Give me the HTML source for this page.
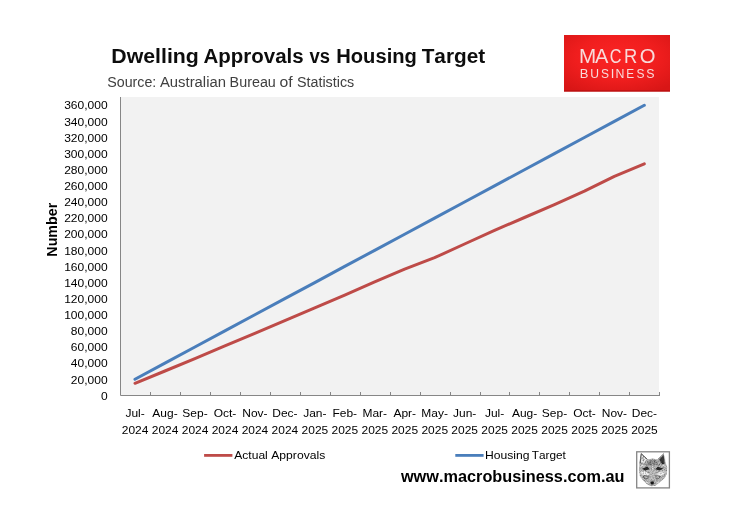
<!DOCTYPE html>
<html><head><meta charset="utf-8"><title>Dwelling Approvals vs Housing Target</title>
<style>
html,body{margin:0;padding:0;background:#fff;}
body{width:739px;height:512px;overflow:hidden;position:relative;}
svg{position:absolute;left:0;top:0;display:block;will-change:transform;}
text{font-family:"Liberation Sans",sans-serif;font-kerning:none;}
</style></head><body>
<svg width="739" height="512" viewBox="0 0 739 512">
<defs>
<radialGradient id="rg" cx="50%" cy="40%" r="70%">
<stop offset="0" stop-color="#fb2424"/>
<stop offset="0.55" stop-color="#f01e1e"/>
<stop offset="1" stop-color="#d81616"/>
</radialGradient>
<filter id="fur" x="0" y="0" width="100%" height="100%" filterUnits="objectBoundingBox">
<feTurbulence type="fractalNoise" baseFrequency="0.9" numOctaves="2" seed="7" result="n"/>
<feColorMatrix in="n" type="matrix" values="0 0 0 0 0  0 0 0 0 0  0 0 0 0 0  -2.2 0 0 0 1.25" result="a"/>
<feComposite in="a" in2="SourceGraphic" operator="in"/>
</filter>
</defs>
<rect width="739" height="512" fill="#fff"/>
<!-- title -->
<text x="111.28" y="62.8" font-size="21.1" font-weight="bold" fill="#0d0d0d" textLength="87.55" lengthAdjust="spacingAndGlyphs">Dwelling</text>
<text x="203.49" y="62.8" font-size="21.1" font-weight="bold" fill="#0d0d0d" textLength="100.15" lengthAdjust="spacingAndGlyphs">Approvals</text>
<text x="309.43" y="62.8" font-size="21.1" font-weight="bold" fill="#0d0d0d" textLength="20.53" lengthAdjust="spacingAndGlyphs">vs</text>
<text x="336.25" y="62.8" font-size="21.1" font-weight="bold" fill="#0d0d0d" textLength="80.60" lengthAdjust="spacingAndGlyphs">Housing</text>
<text x="421.67" y="62.8" font-size="21.1" font-weight="bold" fill="#0d0d0d" textLength="63.49" lengthAdjust="spacingAndGlyphs">Target</text>
<text x="107.25" y="86.8" font-size="14.0" fill="#404040" textLength="49.05" lengthAdjust="spacingAndGlyphs">Source:</text>
<text x="159.97" y="86.8" font-size="14.0" fill="#404040" textLength="65.99" lengthAdjust="spacingAndGlyphs">Australian</text>
<text x="229.62" y="86.8" font-size="14.0" fill="#404040" textLength="46.23" lengthAdjust="spacingAndGlyphs">Bureau</text>
<text x="279.54" y="86.8" font-size="14.0" fill="#404040" textLength="13.14" lengthAdjust="spacingAndGlyphs">of</text>
<text x="296.95" y="86.8" font-size="14.0" fill="#404040" textLength="57.27" lengthAdjust="spacingAndGlyphs">Statistics</text>
<!-- logo -->
<rect x="564" y="35" width="106" height="56.5" fill="url(#rg)"/>
<rect x="564" y="90.4" width="106" height="1.1" fill="#b01010"/>
<text x="579.11" y="62.7" font-size="20.9" fill="#f8dada" textLength="17.18" lengthAdjust="spacingAndGlyphs">M</text>
<text x="595.06" y="62.7" font-size="20.9" fill="#f8dada" textLength="13.38" lengthAdjust="spacingAndGlyphs">A</text>
<text x="609.87" y="62.7" font-size="20.9" fill="#f8dada" textLength="11.75" lengthAdjust="spacingAndGlyphs">C</text>
<text x="624.09" y="62.7" font-size="20.9" fill="#f8dada" textLength="13.26" lengthAdjust="spacingAndGlyphs">R</text>
<text x="639.64" y="62.7" font-size="20.9" fill="#f8dada" textLength="15.72" lengthAdjust="spacingAndGlyphs">O</text>
<text x="579.74" y="77.8" font-size="12.6" fill="#f8dada" textLength="8.65" lengthAdjust="spacingAndGlyphs">B</text>
<text x="590.16" y="77.8" font-size="12.6" fill="#f8dada" textLength="8.77" lengthAdjust="spacingAndGlyphs">U</text>
<text x="600.96" y="77.8" font-size="12.6" fill="#f8dada" textLength="7.99" lengthAdjust="spacingAndGlyphs">S</text>
<text x="610.81" y="77.8" font-size="12.6" fill="#f8dada" textLength="3.57" lengthAdjust="spacingAndGlyphs">I</text>
<text x="615.39" y="77.8" font-size="12.6" fill="#f8dada" textLength="8.92" lengthAdjust="spacingAndGlyphs">N</text>
<text x="626.33" y="77.8" font-size="12.6" fill="#f8dada" textLength="7.88" lengthAdjust="spacingAndGlyphs">E</text>
<text x="636.56" y="77.8" font-size="12.6" fill="#f8dada" textLength="7.99" lengthAdjust="spacingAndGlyphs">S</text>
<text x="646.34" y="77.8" font-size="12.6" fill="#f8dada" textLength="8.23" lengthAdjust="spacingAndGlyphs">S</text>
<!-- plot area -->
<rect x="120" y="97" width="539" height="298.5" fill="#f2f2f2"/>
<path d="M120.5 97V395.5H660" fill="none" stroke="#868686" stroke-width="1"/>
<path d="M150.5 395V392 M180.5 395V392 M210.5 395V392 M240.5 395V392 M270.5 395V392 M300.5 395V392 M330.5 395V392 M360.5 395V392 M390.5 395V392 M420.5 395V392 M450.5 395V392 M480.5 395V392 M509.5 395V392 M539.5 395V392 M569.5 395V392 M599.5 395V392 M629.5 395V392 M659.5 395V392" fill="none" stroke="#868686" stroke-width="1"/>
<polyline points="134.98,379.28 164.94,363.16 194.90,347.04 224.86,330.92 254.82,314.80 284.79,298.68 314.75,282.56 344.71,266.44 374.67,250.32 404.63,234.20 434.59,218.08 464.55,201.96 494.51,185.84 524.47,169.72 554.44,153.60 584.40,137.48 614.36,121.36 644.32,105.24" fill="none" stroke="#4a7ebb" stroke-width="3" stroke-linejoin="round" stroke-linecap="round"/>
<polyline points="134.98,383.30 164.94,371.00 194.90,358.60 224.86,345.90 254.82,333.30 284.79,320.60 314.75,307.80 344.71,295.10 374.67,281.80 404.63,269.20 434.59,257.70 464.55,244.00 494.51,230.40 524.47,217.50 554.44,204.60 584.40,191.20 614.36,176.30 644.32,163.90" fill="none" stroke="#be4b48" stroke-width="3" stroke-linejoin="round" stroke-linecap="round"/>
<!-- y labels -->
<g fill="#000">
<text x="100.98" y="399.65" font-size="11.4" fill="#000" textLength="6.69" lengthAdjust="spacingAndGlyphs">0</text>
<text x="70.88" y="383.53" font-size="11.4" fill="#000" textLength="36.79" lengthAdjust="spacingAndGlyphs">20,000</text>
<text x="70.88" y="367.41" font-size="11.4" fill="#000" textLength="36.79" lengthAdjust="spacingAndGlyphs">40,000</text>
<text x="70.88" y="351.29" font-size="11.4" fill="#000" textLength="36.79" lengthAdjust="spacingAndGlyphs">60,000</text>
<text x="70.88" y="335.17" font-size="11.4" fill="#000" textLength="36.79" lengthAdjust="spacingAndGlyphs">80,000</text>
<text x="64.20" y="319.05" font-size="11.4" fill="#000" textLength="43.47" lengthAdjust="spacingAndGlyphs">100,000</text>
<text x="64.20" y="302.93" font-size="11.4" fill="#000" textLength="43.47" lengthAdjust="spacingAndGlyphs">120,000</text>
<text x="64.20" y="286.81" font-size="11.4" fill="#000" textLength="43.47" lengthAdjust="spacingAndGlyphs">140,000</text>
<text x="64.20" y="270.69" font-size="11.4" fill="#000" textLength="43.47" lengthAdjust="spacingAndGlyphs">160,000</text>
<text x="64.20" y="254.57" font-size="11.4" fill="#000" textLength="43.47" lengthAdjust="spacingAndGlyphs">180,000</text>
<text x="64.20" y="238.45" font-size="11.4" fill="#000" textLength="43.47" lengthAdjust="spacingAndGlyphs">200,000</text>
<text x="64.20" y="222.33" font-size="11.4" fill="#000" textLength="43.47" lengthAdjust="spacingAndGlyphs">220,000</text>
<text x="64.20" y="206.21" font-size="11.4" fill="#000" textLength="43.47" lengthAdjust="spacingAndGlyphs">240,000</text>
<text x="64.20" y="190.09" font-size="11.4" fill="#000" textLength="43.47" lengthAdjust="spacingAndGlyphs">260,000</text>
<text x="64.20" y="173.97" font-size="11.4" fill="#000" textLength="43.47" lengthAdjust="spacingAndGlyphs">280,000</text>
<text x="64.20" y="157.85" font-size="11.4" fill="#000" textLength="43.47" lengthAdjust="spacingAndGlyphs">300,000</text>
<text x="64.20" y="141.73" font-size="11.4" fill="#000" textLength="43.47" lengthAdjust="spacingAndGlyphs">320,000</text>
<text x="64.20" y="125.61" font-size="11.4" fill="#000" textLength="43.47" lengthAdjust="spacingAndGlyphs">340,000</text>
<text x="64.20" y="109.49" font-size="11.4" fill="#000" textLength="43.47" lengthAdjust="spacingAndGlyphs">360,000</text>
</g>
<text x="-256.65" y="56.6" font-size="14.0" font-weight="bold" fill="#000" textLength="53.87" lengthAdjust="spacingAndGlyphs" transform="rotate(-90)">Number</text>
<!-- x labels -->
<g fill="#000">
<text x="125.43" y="416.90" font-size="11.3" fill="#000" textLength="19.30" lengthAdjust="spacingAndGlyphs">Jul-</text>
<text x="121.81" y="433.60" font-size="11.3" fill="#000" textLength="26.65" lengthAdjust="spacingAndGlyphs">2024</text>
<text x="152.39" y="416.90" font-size="11.3" fill="#000" textLength="25.30" lengthAdjust="spacingAndGlyphs">Aug-</text>
<text x="151.77" y="433.60" font-size="11.3" fill="#000" textLength="26.65" lengthAdjust="spacingAndGlyphs">2024</text>
<text x="182.35" y="416.90" font-size="11.3" fill="#000" textLength="25.30" lengthAdjust="spacingAndGlyphs">Sep-</text>
<text x="181.73" y="433.60" font-size="11.3" fill="#000" textLength="26.65" lengthAdjust="spacingAndGlyphs">2024</text>
<text x="213.65" y="416.90" font-size="11.3" fill="#000" textLength="22.62" lengthAdjust="spacingAndGlyphs">Oct-</text>
<text x="211.69" y="433.60" font-size="11.3" fill="#000" textLength="26.65" lengthAdjust="spacingAndGlyphs">2024</text>
<text x="242.28" y="416.90" font-size="11.3" fill="#000" textLength="25.29" lengthAdjust="spacingAndGlyphs">Nov-</text>
<text x="241.65" y="433.60" font-size="11.3" fill="#000" textLength="26.65" lengthAdjust="spacingAndGlyphs">2024</text>
<text x="272.24" y="416.90" font-size="11.3" fill="#000" textLength="25.29" lengthAdjust="spacingAndGlyphs">Dec-</text>
<text x="271.61" y="433.60" font-size="11.3" fill="#000" textLength="26.65" lengthAdjust="spacingAndGlyphs">2024</text>
<text x="303.20" y="416.90" font-size="11.3" fill="#000" textLength="23.30" lengthAdjust="spacingAndGlyphs">Jan-</text>
<text x="301.57" y="433.60" font-size="11.3" fill="#000" textLength="26.65" lengthAdjust="spacingAndGlyphs">2025</text>
<text x="332.49" y="416.90" font-size="11.3" fill="#000" textLength="24.63" lengthAdjust="spacingAndGlyphs">Feb-</text>
<text x="331.54" y="433.60" font-size="11.3" fill="#000" textLength="26.65" lengthAdjust="spacingAndGlyphs">2025</text>
<text x="362.46" y="416.90" font-size="11.3" fill="#000" textLength="24.62" lengthAdjust="spacingAndGlyphs">Mar-</text>
<text x="361.50" y="433.60" font-size="11.3" fill="#000" textLength="26.65" lengthAdjust="spacingAndGlyphs">2025</text>
<text x="393.42" y="416.90" font-size="11.3" fill="#000" textLength="22.63" lengthAdjust="spacingAndGlyphs">Apr-</text>
<text x="391.46" y="433.60" font-size="11.3" fill="#000" textLength="26.65" lengthAdjust="spacingAndGlyphs">2025</text>
<text x="421.38" y="416.90" font-size="11.3" fill="#000" textLength="26.62" lengthAdjust="spacingAndGlyphs">May-</text>
<text x="421.42" y="433.60" font-size="11.3" fill="#000" textLength="26.65" lengthAdjust="spacingAndGlyphs">2025</text>
<text x="453.00" y="416.90" font-size="11.3" fill="#000" textLength="23.30" lengthAdjust="spacingAndGlyphs">Jun-</text>
<text x="451.38" y="433.60" font-size="11.3" fill="#000" textLength="26.65" lengthAdjust="spacingAndGlyphs">2025</text>
<text x="484.96" y="416.90" font-size="11.3" fill="#000" textLength="19.30" lengthAdjust="spacingAndGlyphs">Jul-</text>
<text x="481.34" y="433.60" font-size="11.3" fill="#000" textLength="26.65" lengthAdjust="spacingAndGlyphs">2025</text>
<text x="511.92" y="416.90" font-size="11.3" fill="#000" textLength="25.30" lengthAdjust="spacingAndGlyphs">Aug-</text>
<text x="511.30" y="433.60" font-size="11.3" fill="#000" textLength="26.65" lengthAdjust="spacingAndGlyphs">2025</text>
<text x="541.89" y="416.90" font-size="11.3" fill="#000" textLength="25.30" lengthAdjust="spacingAndGlyphs">Sep-</text>
<text x="541.26" y="433.60" font-size="11.3" fill="#000" textLength="26.65" lengthAdjust="spacingAndGlyphs">2025</text>
<text x="573.19" y="416.90" font-size="11.3" fill="#000" textLength="22.62" lengthAdjust="spacingAndGlyphs">Oct-</text>
<text x="571.22" y="433.60" font-size="11.3" fill="#000" textLength="26.65" lengthAdjust="spacingAndGlyphs">2025</text>
<text x="601.81" y="416.90" font-size="11.3" fill="#000" textLength="25.29" lengthAdjust="spacingAndGlyphs">Nov-</text>
<text x="601.19" y="433.60" font-size="11.3" fill="#000" textLength="26.65" lengthAdjust="spacingAndGlyphs">2025</text>
<text x="631.77" y="416.90" font-size="11.3" fill="#000" textLength="25.29" lengthAdjust="spacingAndGlyphs">Dec-</text>
<text x="631.15" y="433.60" font-size="11.3" fill="#000" textLength="26.65" lengthAdjust="spacingAndGlyphs">2025</text>
</g>
<!-- legend -->
<line x1="204.1" y1="455.4" x2="232.4" y2="455.4" stroke="#be4b48" stroke-width="2.8"/>
<line x1="455.3" y1="455.4" x2="483.6" y2="455.4" stroke="#4a7ebb" stroke-width="2.8"/>
<text x="234.28" y="458.8" font-size="11.2" fill="#000" textLength="33.53" lengthAdjust="spacingAndGlyphs">Actual</text>
<text x="271.28" y="458.8" font-size="11.2" fill="#000" textLength="53.96" lengthAdjust="spacingAndGlyphs">Approvals</text>
<text x="485.01" y="458.8" font-size="11.2" fill="#000" textLength="44.48" lengthAdjust="spacingAndGlyphs">Housing</text>
<text x="531.74" y="458.8" font-size="11.2" fill="#000" textLength="34.05" lengthAdjust="spacingAndGlyphs">Target</text>
<!-- url -->
<text x="400.95" y="481.7" font-size="17.2" font-weight="bold" fill="#000" textLength="223.53" lengthAdjust="spacingAndGlyphs">www.macrobusiness.com.au</text>
<!-- wolf -->
<g>
<rect x="636.7" y="451.8" width="32.7" height="36.1" fill="#fff" stroke="#858585" stroke-width="1.3"/>
<!-- head base -->
<path d="M641.2 453.6 L647.4 459.4 L652.5 458.4 L657.8 459.4 L663.9 453.6 L665.3 461.5 L667.2 467 L667 473.5 L664.8 478 L659.5 482.6 L655.5 485.8 L651.5 486.3 L647.6 484.8 L643.6 481 L640 476.5 L638.9 470 L639.4 464 L640.3 458.5 Z" fill="#bcbcbc"/>
<!-- left ear: light with dark outline -->
<path d="M641.8 455.2 L646.6 459.6 L644.2 463.2 L641.2 462 Z" fill="#efefef"/>
<path d="M641.2 453.6 L640.5 458.6 L640.1 463.5 M641.2 453.6 L647.4 459.4" stroke="#4a4a4a" stroke-width="0.9" fill="none"/>
<path d="M642.6 457 L643.8 461.5" stroke="#777" stroke-width="0.7" fill="none"/>
<!-- right ear: dark interior -->
<path d="M663.6 455 L659.2 459.5 L662.2 464.5 L664.8 463.5 Z" fill="#3a3a3a"/>
<path d="M663.9 453.6 L657.8 459.4" stroke="#666" stroke-width="0.8" fill="none"/>
<path d="M664.4 456 L665.2 461" stroke="#d8d8d8" stroke-width="0.8" fill="none"/>
<!-- forehead mottling -->
<path d="M646.5 461 L652.5 459.6 L658.8 461 L657.2 465.8 L652.5 464.2 L647.6 465.8 Z" fill="#9a9a9a"/>
<path d="M650.3 460.3 L651.2 466.5 M654.7 460.3 L653.8 466.5 M644.3 462.8 L647.2 466.2 M660.8 462.8 L658.2 466.2 M648.6 462.5 L649.4 465" stroke="#666" stroke-width="0.7" fill="none"/>
<path d="M640.6 466.3 L643.4 465.2 M665.6 466.3 L662.8 465.2 M652.5 466.3 L652.5 469.5" stroke="#e6e6e6" stroke-width="1" fill="none"/>
<!-- eyes -->
<path d="M642 468.8 L647.4 466.6 L649.8 469.3 L645 470.6 Z" fill="#2a2a2a"/>
<path d="M655.2 469.3 L657.8 466.8 L663.3 468.4 L659.6 470.6 Z" fill="#2a2a2a"/>
<!-- cheeks white -->
<path d="M639.8 472 L645 470.9 L649 474 L648 476 L643.5 475.6 Z" fill="#f4f4f4"/>
<path d="M665.6 472 L660.4 470.9 L656.6 474 L657.6 476 L662.2 475.6 Z" fill="#f2f2f2"/>
<!-- under-eye rings -->
<path d="M643.2 476.2 Q646 474.8 648.6 476.6 Q648.2 479 645.6 478.8 Q643.6 478.4 643.2 476.2 Z" fill="none" stroke="#5e5e5e" stroke-width="0.9"/>
<path d="M654.8 476.6 Q657.6 475 660.2 476.2 Q659.8 478.6 657.6 479 Q655.2 479 654.8 476.6 Z" fill="none" stroke="#6a6a6a" stroke-width="0.9"/>
<!-- muzzle -->
<path d="M650.3 470 L654.7 470 L655.4 478.5 L652.5 480.3 L649.6 478.5 Z" fill="#c4c4c4"/>
<path d="M645.8 481.2 L648.2 483.6 M659.4 481.2 L657 483.6" stroke="#e2e2e2" stroke-width="1.2" fill="none"/>
<path d="M641.2 453.6 L647.4 459.4 L652.5 458.4 L657.8 459.4 L663.9 453.6 L665.3 461.5 L667.2 467 L667 473.5 L664.8 478 L659.5 482.6 L655.5 485.8 L651.5 486.3 L647.6 484.8 L643.6 481 L640 476.5 L638.9 470 L639.4 464 L640.3 458.5 Z" fill="#555" filter="url(#fur)" opacity="0.42"/>
<!-- nose -->
<ellipse cx="652.2" cy="482.8" rx="1.8" ry="1.5" fill="#161616"/>
<path d="M650.8 484.6 L653.6 484.6" stroke="#555" stroke-width="0.8"/>
</g>
</svg>
</body></html>
